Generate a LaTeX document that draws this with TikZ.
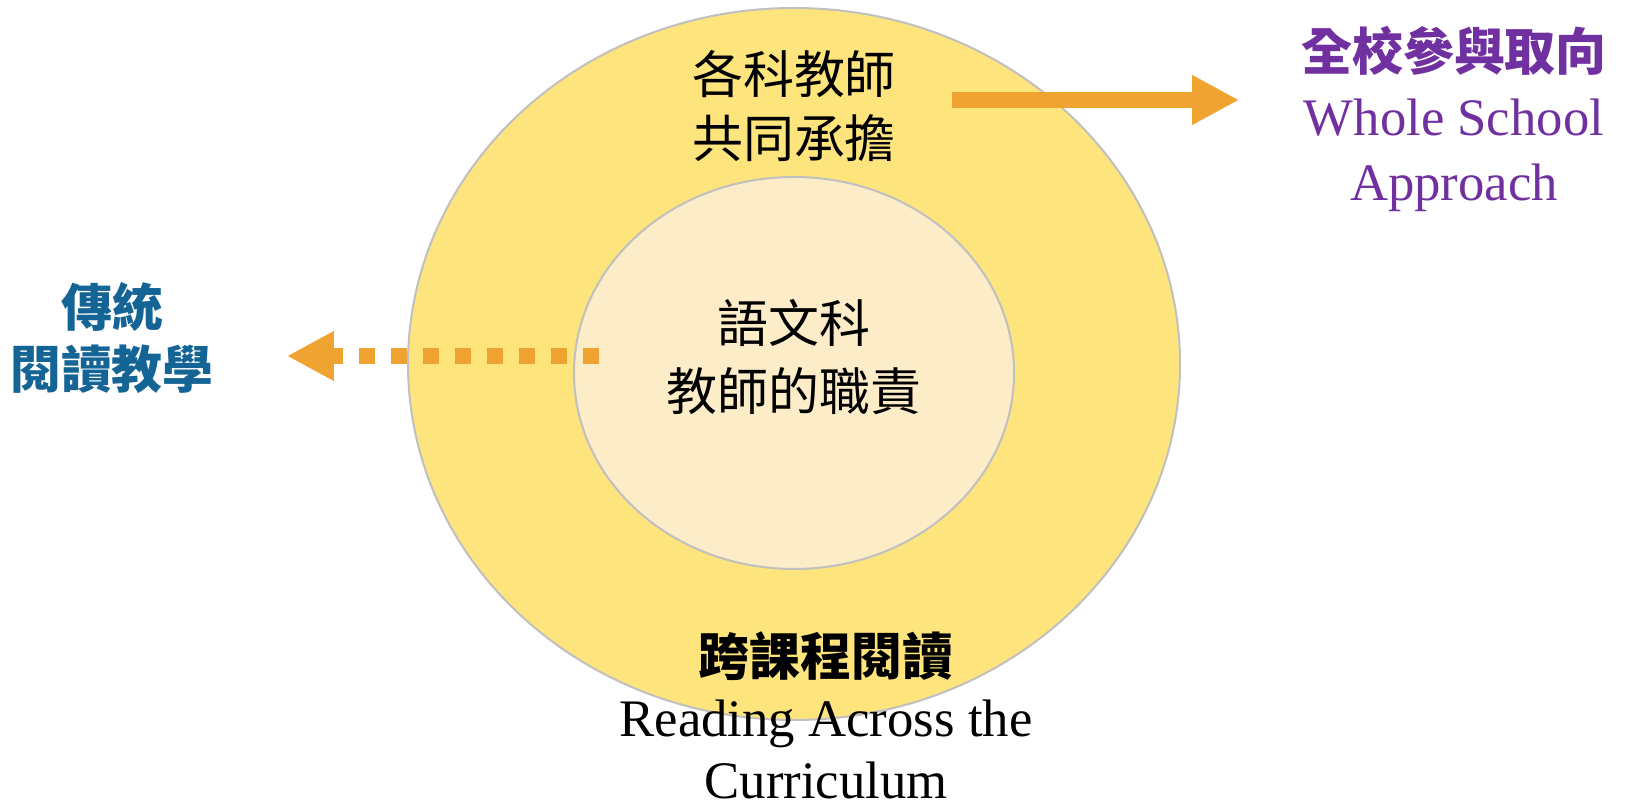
\documentclass[tikz,border=0pt]{standalone}
\usepackage{fontspec}
\setmainfont{Liberation Serif}
\newfontfamily\cjk{Noto Sans CJK TC}
\usetikzlibrary{arrows.meta}

\definecolor{outerfill}{RGB}{254,228,125}
\definecolor{innerfill}{RGB}{252,236,200}
\definecolor{rim}{RGB}{192,192,192}
\definecolor{arroworange}{RGB}{239,163,48}
\definecolor{wspurple}{RGB}{112,48,160}
\definecolor{tradblue}{RGB}{20,100,150}

\tikzset{
  label text/.style={anchor=center,align=center,font=\fontsize{29}{36}\selectfont},
  thick arrow/.style={draw=arroworange,line width=3.2mm,-{Triangle[length=9.4mm,width=9.4mm]}}
}
\newcommand{\eng}{\fontsize{30}{34}\selectfont}

\begin{document}
\begin{tikzpicture}[x=0.02cm,y=0.02cm]
  \useasboundingbox (0,0) rectangle (1628,807);

  \coordinate (c1) at (794,443);
  \coordinate (c2) at (794,434);

  \draw [rim,fill=outerfill,line width=0.4mm] (c1) ellipse [x radius=386,y radius=356];
  \draw [rim,fill=innerfill,line width=0.4mm] (c2) ellipse [x radius=220,y radius=196];

  \coordinate (a1) at (952,707);
  \coordinate (a2) at (1239,707);
  \coordinate (b1) at (599,451);
  \coordinate (b2) at (287,451);

  \draw [thick arrow] (a1) -- (a2);
  \draw [thick arrow,dash pattern=on 3.2mm off 3.2mm] (b1) -- (b2);

  \node (shared) [label text] at (794,701) {\cjk 各科教師\\\cjk 共同承擔};
  \node (chinese) [label text,font=\fontsize{29}{39}\selectfont] at (794,450) {\cjk 語文科\\\cjk 教師的職責};
  \node (rac) [label text,inner sep=0pt,font=\fontsize{29}{35}\selectfont] at (826,92) {{\cjk\bfseries 跨課程閱讀}\\\eng Reading Across the\\\eng Curriculum};
  \node (whole) [label text,text=wspurple,font=\fontsize{29}{37}\selectfont] at (1454,688) {{\cjk\bfseries 全校參與取向}\\\eng Whole School\\\eng Approach};
  \node (trad) [label text,text=tradblue,font=\fontsize{29}{35}\selectfont] at (112,469) {\cjk\bfseries 傳統\\\cjk\bfseries 閱讀教學};
\end{tikzpicture}
\end{document}
